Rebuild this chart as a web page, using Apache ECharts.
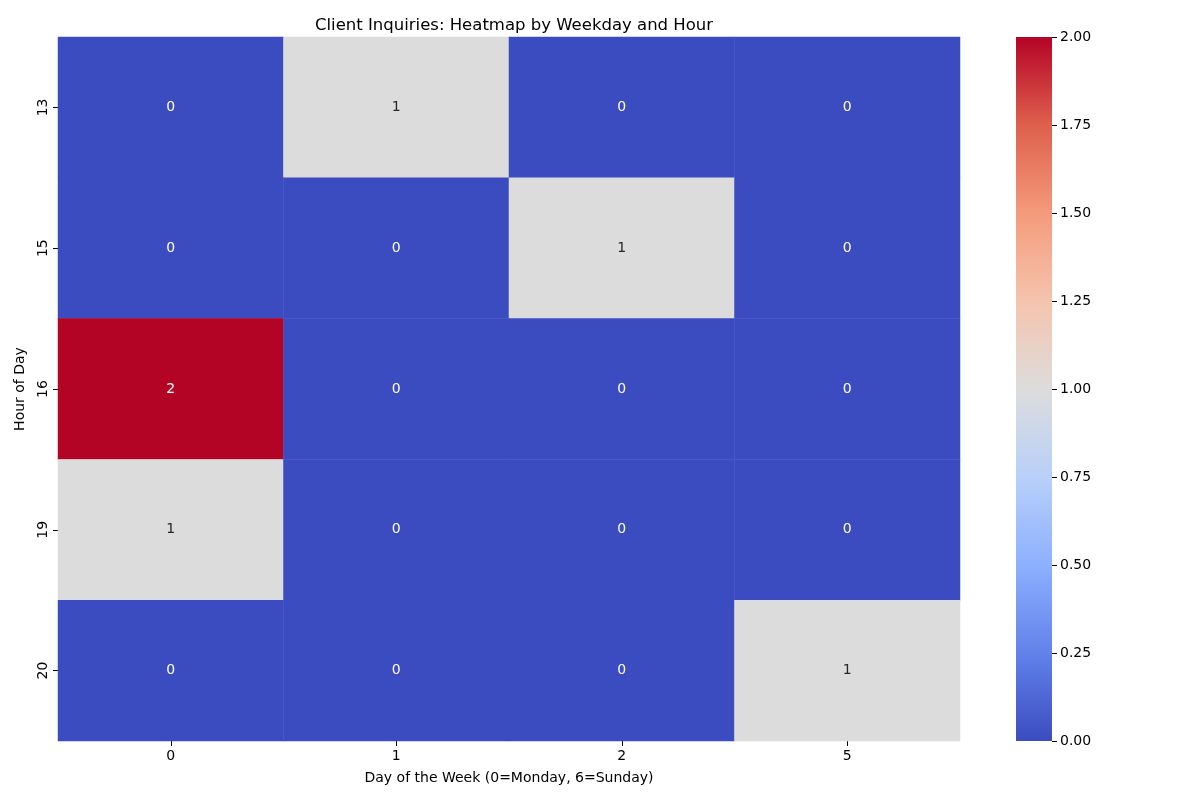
<!DOCTYPE html>
<html><head><meta charset="utf-8">
<script src="https://cdn.jsdelivr.net/npm/echarts@6/dist/echarts.min.js"></script>
<style>html,body{margin:0;padding:0;background:#fff}#c{width:1200px;height:800px}</style>
</head><body><div id="c"></div>
<script>
const days = ['0', '1', '2', '5'];
const hours = ['13', '15', '16', '19', '20'];
// counts[hourIndex][dayIndex]
const counts = [
  [0, 1, 0, 0],
  [0, 0, 1, 0],
  [2, 0, 0, 0],
  [1, 0, 0, 0],
  [0, 0, 0, 1]
];
const colorMin = 0, colorMax = 2;
const colorTicks = 0.25;
const coolwarm = ['#3b4cc0','#6282ea','#8db0fe','#b8d0f9','#dddcdc','#f5c4ad','#f49a7b','#de604d','#b40426'];

const data = [];
counts.forEach((row, hi) => row.forEach((v, di) => data.push([di, hi, v])));

const font = 'DejaVu Sans';
const fs = 14;
const chart = echarts.init(document.getElementById('c'));
chart.setOption({
  animation: false,
  textStyle: { fontFamily: font },
  title: { text: 'Client Inquiries: Heatmap by Weekday and Hour', left: 509, top: 12, textAlign: 'center',
    textStyle: { fontFamily: font, fontSize: 16.5, fontWeight: 'normal', color: '#000' } },
  grid: [
    { left: 58, top: 37, width: 902, height: 704 },
    { left: 1016, top: 37, width: 36, height: 704 }
  ],
  xAxis: [
    { type: 'category', data: days, gridIndex: 0,
      name: 'Day of the Week (0=Monday, 6=Sunday)', nameLocation: 'middle', nameGap: 30,
      nameTextStyle: { fontFamily: font, fontSize: fs, color: '#000' },
      axisLine: { show: false }, axisTick: { show: true, alignWithLabel: true, length: 5, lineStyle: { color: '#000' } },
      axisLabel: { fontFamily: font, fontSize: fs, color: '#000', margin: 8 }, splitLine: { show: false } },
    { type: 'category', data: ['cb'], gridIndex: 1, show: false }
  ],
  yAxis: [
    { type: 'category', data: hours, gridIndex: 0, inverse: true,
      name: 'Hour of Day', nameLocation: 'middle', nameGap: 31, nameRotate: 90,
      nameTextStyle: { fontFamily: font, fontSize: fs, color: '#000' },
      axisLine: { show: false }, axisTick: { show: true, alignWithLabel: true, length: 5, lineStyle: { color: '#000' } },
      axisLabel: { fontFamily: font, fontSize: fs, color: '#000', rotate: 90, margin: 8 }, splitLine: { show: false } },
    { type: 'value', gridIndex: 1, position: 'right', min: colorMin, max: colorMax, interval: colorTicks,
      axisLine: { show: false }, axisTick: { show: true, length: 5, lineStyle: { color: '#000' } },
      axisLabel: { fontFamily: font, fontSize: fs, color: '#000', margin: 8, formatter: v => v.toFixed(2) },
      splitLine: { show: false } }
  ],
  visualMap: {
    show: false, min: colorMin, max: colorMax, seriesIndex: 0, dimension: 2,
    inRange: { color: coolwarm }
  },
  series: [
    { type: 'heatmap', xAxisIndex: 0, yAxisIndex: 0, data: data,
      label: { show: true,
        formatter: p => (p.value[2] === 1 ? '{d|' : '{w|') + p.value[2] + '}',
        rich: { d: { color: '#262626', fontSize: fs, fontFamily: font }, w: { color: '#fff', fontSize: fs, fontFamily: font } } },
      itemStyle: { borderWidth: 0 },
      emphasis: { disabled: true } },
    { type: 'bar', xAxisIndex: 1, yAxisIndex: 1, data: [colorMax], barWidth: '100%', silent: true,
      itemStyle: { color: new echarts.graphic.LinearGradient(0, 1, 0, 0,
        coolwarm.map((c, i) => ({ offset: i / (coolwarm.length - 1), color: c }))) } }
  ]
});
</script></body></html>
